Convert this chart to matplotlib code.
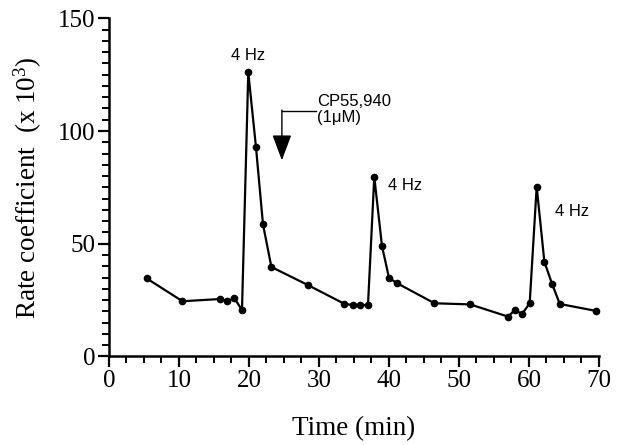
import matplotlib
matplotlib.use("Agg")
import matplotlib.pyplot as plt
from matplotlib.ticker import MultipleLocator

time_min = [5.4, 10.5, 15.9, 16.9, 17.9, 19.0, 19.9, 21.0, 22.0, 23.2, 28.4,
            33.6, 34.8, 35.9, 37.0, 37.9, 39.0, 40.0, 41.1, 46.5, 51.6,
            57.0, 58.0, 59.0, 60.1, 61.1, 62.2, 63.3, 64.4, 69.6]
rate = [34.6, 24.5, 25.5, 24.6, 25.9, 20.6, 126.0, 92.8, 58.6, 39.7, 31.7,
        23.4, 22.8, 22.8, 22.8, 79.7, 49.0, 34.9, 32.6, 23.6, 23.1,
        17.7, 20.6, 18.8, 23.6, 75.3, 42.0, 32.2, 23.3, 20.2]

hz_labels = ["4 Hz", "4 Hz", "4 Hz"]
drug_label = "CP55,940\n(1\u03bcM)"
x_ticks = [0, 10, 20, 30, 40, 50, 60, 70]
y_ticks = [0, 50, 100, 150]

plt.rcParams['mathtext.fontset'] = 'custom'
plt.rcParams['mathtext.rm'] = 'Liberation Serif'
plt.rcParams['mathtext.it'] = 'Liberation Serif:italic'

fig = plt.figure(figsize=(6.4, 4.45), dpi=100)
ax = fig.add_axes([0.1703, 0.1989, 0.7656, 0.76])

ax.plot(time_min, rate, color='black', lw=1.6, marker='o', ms=4.5,
        mfc='black', mec='black', clip_on=False)

ax.set_xlim(0, 70)
ax.set_ylim(0, 150)
ax.set_xticks(x_ticks)
ax.set_yticks(y_ticks)
ax.xaxis.set_minor_locator(MultipleLocator(2.5))
ax.yaxis.set_minor_locator(MultipleLocator(5))
for s in ['top', 'right']:
    ax.spines[s].set_visible(False)
for s in ['left', 'bottom']:
    ax.spines[s].set_linewidth(1.8)
ax.tick_params(which='major', direction='out', length=8, width=1.6,
               labelsize=18, pad=2)
ax.tick_params(which='minor', direction='out', length=5, width=1.4)
for lab in ax.get_xticklabels() + ax.get_yticklabels():
    lab.set_fontfamily('Liberation Serif')

ax.set_xlabel('Time (min)', fontfamily='Liberation Serif', fontsize=19.5, labelpad=17)
ax.set_ylabel('Rate coefficient  (x 10$^3$)', fontfamily='Liberation Serif',
              fontsize=19.5, labelpad=10)

sans = 'Liberation Sans'
ax.text(19.8, 133.7, hz_labels[0], fontfamily=sans, fontsize=12, ha='center', va='center')
ax.text(39.9, 76, hz_labels[1], fontfamily=sans, fontsize=12, ha='left', va='center')
ax.text(63.7, 64.2, hz_labels[2], fontfamily=sans, fontsize=12, ha='left', va='center')
ax.text(29.7, 109.6, drug_label, fontfamily=sans, fontsize=12, ha='left', va='center',
        linespacing=1.1)

# arrow: horizontal leader then down arrow
ax.plot([29.6, 24.7], [109, 109], color='black', lw=1.0)
ax.annotate('', xy=(24.7, 87), xytext=(24.7, 109.3),
            arrowprops=dict(arrowstyle='-|>,head_length=1.6,head_width=0.6',
                            color='black', lw=1.0, shrinkA=0, shrinkB=0))

fig.savefig('out.png', dpi=100)
